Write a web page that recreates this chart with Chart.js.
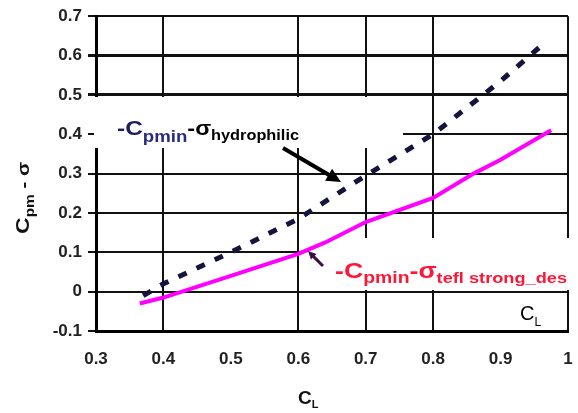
<!DOCTYPE html>
<html>
<head>
<meta charset="utf-8">
<script src="https://cdn.jsdelivr.net/npm/chart.js@4/dist/chart.umd.min.js"></script>
<style>
  html, body { margin: 0; padding: 0; background: #fff; }
  #wrap { width: 578px; height: 413px; }
</style>
</head>
<body>
<div id="wrap"><canvas id="chart" width="578" height="413"></canvas></div>
<script>
// Values
const clHydro = [0.37, 0.4, 0.5, 0.6, 0.7, 0.8, 0.9, 0.957];
const cpHydro = [-0.01, 0.02, 0.10, 0.185, 0.295, 0.40, 0.535, 0.62];
const clTefl = [0.365, 0.4, 0.5, 0.6, 0.64, 0.7, 0.8, 0.86, 0.9, 0.975];
const cpTefl = [-0.03, -0.015, 0.04, 0.096, 0.125, 0.177, 0.238, 0.30, 0.335, 0.41];
const xGridShown = [4, 6, 7, 8, 10]; // tenths where vertical grid lines survive

const toPoints = (xs, ys) => xs.map((x, i) => ({ x: x, y: ys[i] }));

const NAVY = '#1c1c66';
const RED = '#ff1535';

// draws text made of several runs, squeezed/stretched to a target width
function rich(ctx, x, y, parts, width) {
    let total = 0;
    parts.forEach(p => { ctx.font = p[1]; total += ctx.measureText(p[0]).width; });
    ctx.save();
    ctx.translate(x, y);
    ctx.scale(width ? width / total : 1, 1);
    let cx = 0;
    parts.forEach(p => {
        ctx.font = p[1];
        ctx.fillStyle = p[2];
        ctx.fillText(p[0], cx, p[3] || 0);
        cx += ctx.measureText(p[0]).width;
    });
    ctx.restore();
}

function arrow(ctx, x1, y1, x2, y2, w, head, color) {
    const a = Math.atan2(y2 - y1, x2 - x1);
    ctx.save();
    ctx.strokeStyle = color;
    ctx.fillStyle = color;
    ctx.lineWidth = w;
    ctx.beginPath();
    ctx.moveTo(x1, y1);
    ctx.lineTo(x2 - Math.cos(a) * head * 0.8, y2 - Math.sin(a) * head * 0.8);
    ctx.stroke();
    ctx.beginPath();
    ctx.moveTo(x2, y2);
    ctx.lineTo(x2 - head * Math.cos(a - 0.45), y2 - head * Math.sin(a - 0.45));
    ctx.lineTo(x2 - head * Math.cos(a + 0.45), y2 - head * Math.sin(a + 0.45));
    ctx.closePath();
    ctx.fill();
    ctx.restore();
}

const annotations = {
    id: 'annotations',
    beforeDatasetsDraw(chart) {
        const ctx = chart.ctx;
        // label boxes hide the grid behind them
        ctx.save();
        ctx.fillStyle = '#fff';
        ctx.fillRect(94, 97, 309, 51);
        ctx.fillRect(300, 238, 272, 52);
        ctx.restore();
    },
    afterDatasetsDraw(chart) {
        const ctx = chart.ctx;
        ctx.save();
        ctx.textBaseline = 'alphabetic';
        ctx.textAlign = 'left';

        rich(ctx, 117, 135, [
            ['-C', 'bold 21px "Liberation Sans"', NAVY, 0],
            ['pmin', 'bold 16px "Liberation Sans"', '#2a2a80', 7],
            ['-σ', 'bold 20px "Liberation Sans"', '#000', 0],
            ['hydrophilic', 'bold 14px "Liberation Sans"', '#000', 5]
        ], 182);
        arrow(ctx, 283, 148, 341, 182, 4, 16, '#000');

        rich(ctx, 335, 278, [
            ['-C', 'bold 22px "Liberation Sans"', RED, 0],
            ['pmin', 'bold 16px "Liberation Sans"', RED, 5],
            ['-σ', 'bold 22px "Liberation Sans"', RED, 0],
            ['tefl strong_des', 'bold 15px "Liberation Sans"', RED, 5]
        ], 232);
        arrow(ctx, 323, 266, 308, 251, 3, 9, '#3a1040');

        // C_L inside the plot
        rich(ctx, 520, 320, [
            ['C', '20px "Liberation Sans"', '#000', 0],
            ['L', '12px "Liberation Sans"', '#000', 6]
        ]);
        // x axis title
        rich(ctx, 298, 404, [
            ['C', 'bold 19px "Liberation Sans"', '#111', 0],
            ['L', 'bold 11px "Liberation Sans"', '#111', 4]
        ]);
        // y axis title, rotated
        ctx.translate(29, 198);
        ctx.rotate(-Math.PI / 2);
        ctx.textAlign = 'left';
        rich(ctx, -36, 0, [
            ['C', 'bold 18px "Liberation Sans"', '#111', 0],
            ['pm', 'bold 12px "Liberation Sans"', '#111', 5],
            [' - σ', 'bold 16px "Liberation Sans"', '#111', 0]
        ], 72);
        ctx.restore();
    }
};

const tickFmt = v => {
    const r = Math.round(v * 10) / 10;
    return String(r);
};

new Chart(document.getElementById('chart').getContext('2d'), {
    type: 'scatter',
    data: {
        datasets: [{
            data: toPoints(clHydro, cpHydro),
            showLine: true,
            borderColor: '#14143c',
            borderWidth: 5,
            borderDash: [9, 11],
            pointRadius: 0,
            fill: false
        }, {
            data: toPoints(clTefl, cpTefl),
            showLine: true,
            borderColor: '#ff00ff',
            borderWidth: 4,
            pointRadius: 0,
            fill: false
        }]
    },
    options: {
        responsive: false,
        animation: false,
        layout: { padding: { top: 15, right: 10, left: 0, bottom: 0 } },
        plugins: { legend: { display: false }, tooltip: { enabled: false } },
        scales: {
            x: {
                type: 'linear',
                min: 0.3,
                max: 1,
                afterFit: s => { s.height = 82; s.paddingRight = 0; },
                ticks: {
                    stepSize: 0.1,
                    callback: tickFmt,
                    padding: 18,
                    color: '#222',
                    font: { family: 'Liberation Sans', size: 17, weight: 'bold' }
                },
                grid: {
                    drawTicks: false,
                    lineWidth: 2,
                    color: c => xGridShown.includes(Math.round(c.tick.value * 10)) ? '#111' : 'rgba(0,0,0,0)'
                },
                border: { display: true, color: '#000', width: 3 }
            },
            y: {
                min: -0.1,
                max: 0.7,
                afterFit: s => { s.width = 96; },
                ticks: {
                    stepSize: 0.1,
                    callback: tickFmt,
                    padding: 6,
                    color: '#222',
                    font: { family: 'Liberation Sans', size: 17, weight: 'bold' }
                },
                grid: {
                    drawTicks: true,
                    tickLength: 8,
                    color: '#111',
                    lineWidth: c => {
                        const t = Math.round(c.tick.value * 10);
                        return (t === 5 || t === 6) ? 3 : 2;
                    }
                },
                border: { display: true, color: '#000', width: 3 }
            }
        }
    },
    plugins: [annotations]
});
</script>
</body>
</html>
